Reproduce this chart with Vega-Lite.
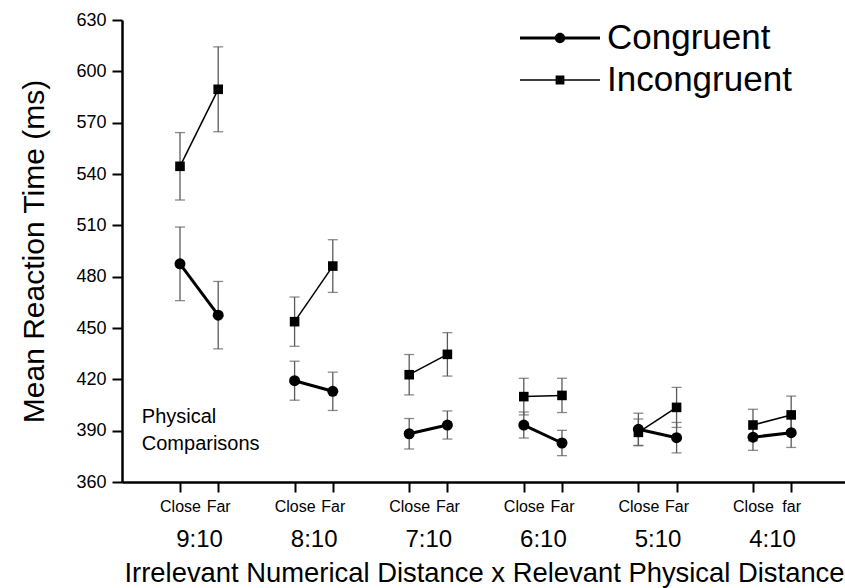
{
  "$schema": "https://vega.github.io/schema/vega-lite/v6.json",
  "width": 723,
  "height": 462,
  "autosize": "none",
  "padding": {"left": 122, "top": 20, "right": 0, "bottom": 106},
  "background": "white",
  "config": {
    "view": {"stroke": null},
    "font": "Liberation Sans"
  },
  "data": {
    "values": [
      {"ratio": "9:10", "distance": "Close", "cell": "9:10 Close", "condition": "Congruent", "rt": 487.5, "se": 21.5},
      {"ratio": "9:10", "distance": "Far", "cell": "9:10 Far", "condition": "Congruent", "rt": 457.5, "se": 19.7},
      {"ratio": "9:10", "distance": "Close", "cell": "9:10 Close", "condition": "Incongruent", "rt": 544.5, "se": 19.7},
      {"ratio": "9:10", "distance": "Far", "cell": "9:10 Far", "condition": "Incongruent", "rt": 589.5, "se": 24.8},
      {"ratio": "8:10", "distance": "Close", "cell": "8:10 Close", "condition": "Congruent", "rt": 419.2, "se": 11.4},
      {"ratio": "8:10", "distance": "Far", "cell": "8:10 Far", "condition": "Congruent", "rt": 413.0, "se": 11.2},
      {"ratio": "8:10", "distance": "Close", "cell": "8:10 Close", "condition": "Incongruent", "rt": 453.7, "se": 14.4},
      {"ratio": "8:10", "distance": "Far", "cell": "8:10 Far", "condition": "Incongruent", "rt": 486.2, "se": 15.4},
      {"ratio": "7:10", "distance": "Close", "cell": "7:10 Close", "condition": "Congruent", "rt": 388.2, "se": 8.9},
      {"ratio": "7:10", "distance": "Far", "cell": "7:10 Far", "condition": "Congruent", "rt": 393.3, "se": 8.2},
      {"ratio": "7:10", "distance": "Close", "cell": "7:10 Close", "condition": "Incongruent", "rt": 422.7, "se": 11.8},
      {"ratio": "7:10", "distance": "Far", "cell": "7:10 Far", "condition": "Incongruent", "rt": 434.6, "se": 12.7},
      {"ratio": "6:10", "distance": "Close", "cell": "6:10 Close", "condition": "Congruent", "rt": 393.3, "se": 7.6},
      {"ratio": "6:10", "distance": "Far", "cell": "6:10 Far", "condition": "Congruent", "rt": 382.8, "se": 7.4},
      {"ratio": "6:10", "distance": "Close", "cell": "6:10 Close", "condition": "Incongruent", "rt": 409.9, "se": 10.7},
      {"ratio": "6:10", "distance": "Far", "cell": "6:10 Far", "condition": "Incongruent", "rt": 410.6, "se": 10.0},
      {"ratio": "5:10", "distance": "Close", "cell": "5:10 Close", "condition": "Congruent", "rt": 390.8, "se": 9.4},
      {"ratio": "5:10", "distance": "Far", "cell": "5:10 Far", "condition": "Congruent", "rt": 385.9, "se": 8.9},
      {"ratio": "5:10", "distance": "Close", "cell": "5:10 Close", "condition": "Incongruent", "rt": 389.0, "se": 7.8},
      {"ratio": "5:10", "distance": "Far", "cell": "5:10 Far", "condition": "Incongruent", "rt": 403.6, "se": 11.7},
      {"ratio": "4:10", "distance": "Close", "cell": "4:10 Close", "condition": "Congruent", "rt": 386.2, "se": 7.7},
      {"ratio": "4:10", "distance": "Far", "cell": "4:10 Far", "condition": "Congruent", "rt": 388.8, "se": 8.6},
      {"ratio": "4:10", "distance": "Close", "cell": "4:10 Close", "condition": "Incongruent", "rt": 393.3, "se": 9.2},
      {"ratio": "4:10", "distance": "Far", "cell": "4:10 Far", "condition": "Incongruent", "rt": 399.2, "se": 11.0}
    ]
  },
  "encoding": {
    "x": {
      "field": "cell",
      "type": "ordinal",
      "scale": {
        "type": "point",
        "domain": ["s0", "s1", "9:10 Close", "9:10", "9:10 Far", "s2", "s3", "s4", "8:10 Close", "8:10", "8:10 Far", "s5", "s6", "s7", "7:10 Close", "7:10", "7:10 Far", "s8", "s9", "s10", "6:10 Close", "6:10", "6:10 Far", "s11", "s12", "s13", "5:10 Close", "5:10", "5:10 Far", "s14", "s15", "s16", "4:10 Close", "4:10", "4:10 Far", "s17", "s18"],
        "padding": 0.927,
        "align": 0.559
      },
      "axis": {
        "title": "Irrelevant Numerical Distance x Relevant Physical Distance",
        "values": ["9:10 Close", "9:10", "9:10 Far", "8:10 Close", "8:10", "8:10 Far", "7:10 Close", "7:10", "7:10 Far", "6:10 Close", "6:10", "6:10 Far", "5:10 Close", "5:10", "5:10 Far", "4:10 Close", "4:10", "4:10 Far"],
        "labelExpr": "datum.value == '4:10 Far' ? 'far' : (indexof(datum.value, ' ') < 0 ? ['', datum.value] : split(datum.value, ' ')[1])",
        "labelFontSize": {"condition": {"test": "indexof(datum.value, ' ') < 0", "value": 24}, "value": 16},
        "tickOpacity": {"condition": {"test": "indexof(datum.value, ' ') < 0", "value": 0}, "value": 1},
        "labelLineHeight": 28.4,
        "labelBaseline": "top",
        "labelPadding": 6.8,
        "labelAngle": 0,
        "labelColor": "black",
        "labelOverlap": false,
        "labelBound": false,
        "labelFlush": false,
        "tickSize": 10,
        "tickWidth": 2,
        "tickColor": "black",
        "domainWidth": 2.5,
        "domainColor": "black",
        "grid": false,
        "titleFontSize": 27.4,
        "titleFontWeight": "normal",
        "titleColor": "black",
        "titleAlign": "left",
        "titleAnchor": "start",
        "titleX": 2,
        "titleY": 99.7,
        "titleBaseline": "alphabetic"
      }
    },
    "y": {
      "field": "rt",
      "type": "quantitative",
      "scale": {"domain": [360, 630], "nice": false, "zero": false},
      "axis": {
        "title": "Mean Reaction Time (ms)",
        "values": [360, 390, 420, 450, 480, 510, 540, 570, 600, 630],
        "grid": false,
        "tickSize": 10,
        "tickWidth": 2,
        "tickColor": "black",
        "domainWidth": 2.5,
        "domainColor": "black",
        "labelFontSize": 18,
        "labelPadding": 6,
        "labelColor": "black",
        "titleFontSize": 30,
        "titleFontWeight": "normal",
        "titleColor": "black",
        "titleX": -78.5,
        "titleY": 231,
        "titleAngle": -90,
        "titleAlign": "center",
        "titleBaseline": "alphabetic"
      }
    }
  },
  "layer": [
    {
      "mark": {
        "type": "errorbar",
        "ticks": {"size": 10, "thickness": 1.3, "color": "#5a5a5a"},
        "rule": {"strokeWidth": 1.3, "color": "#5a5a5a"}
      },
      "encoding": {
        "yError": {"field": "se"}
      }
    },
    {
      "mark": {"type": "line", "color": "black"},
      "encoding": {
        "detail": {"field": "ratio", "type": "nominal"},
        "strokeWidth": {
          "field": "condition",
          "type": "nominal",
          "scale": {"domain": ["Congruent", "Incongruent"], "range": [3, 1.5]},
          "legend": null
        }
      }
    },
    {
      "mark": {"type": "point", "filled": true, "color": "black", "opacity": 1},
      "encoding": {
        "shape": {
          "field": "condition",
          "type": "nominal",
          "scale": {"domain": ["Congruent", "Incongruent"], "range": ["circle", "square"]},
          "legend": null
        },
        "size": {
          "field": "condition",
          "type": "nominal",
          "scale": {"domain": ["Congruent", "Incongruent"], "range": [121, 92]},
          "legend": null
        }
      }
    },
    {
      "transform": [{"filter": "datum.cell == '9:10 Close' && datum.condition == 'Congruent'"}],
      "mark": {
        "type": "text",
        "text": ["Physical", "Comparisons"],
        "align": "left",
        "baseline": "alphabetic",
        "fontSize": 20,
        "lineHeight": 27,
        "color": "black"
      },
      "encoding": {
        "x": {"datum": "s0", "type": "ordinal"},
        "y": {"datum": 394.3, "type": "quantitative"}
      }
    },
    {
      "transform": [{"filter": "false"}],
      "mark": {"type": "point", "filled": true, "color": "black", "opacity": 1},
      "encoding": {
        "shape": {
          "field": "condition",
          "type": "nominal",
          "scale": {
            "domain": ["Congruent", "Incongruent"],
            "range": [
              "M-1,-0.035H-0.12V0.035H-1Z M0.12,-0.035H1V0.035H0.12Z M0.13,0A0.13,0.13,0,1,1,-0.13,0A0.13,0.13,0,1,1,0.13,0Z",
              "M-1,-0.02H-0.11V0.02H-1Z M0.11,-0.02H1V0.02H0.11Z M-0.11,-0.11H0.11V0.11H-0.11Z"
            ]
          },
          "legend": {
            "orient": "none",
            "legendX": 398,
            "legendY": -3,
            "title": null,
            "padding": 0,
            "symbolSize": 6400,
            "symbolFillColor": "black",
            "symbolStrokeColor": "black",
            "symbolStrokeWidth": 0,
            "symbolOpacity": 1,
            "labelFontSize": 35,
            "labelFont": "Liberation Sans",
            "labelColor": "black",
            "labelLimit": 400,
            "labelOffset": 7,
            "rowPadding": 0,
            "clipHeight": 42
          }
        }
      }
    }
  ],
  "resolve": {"scale": {"shape": "independent", "strokeWidth": "independent", "size": "independent"}}
}
